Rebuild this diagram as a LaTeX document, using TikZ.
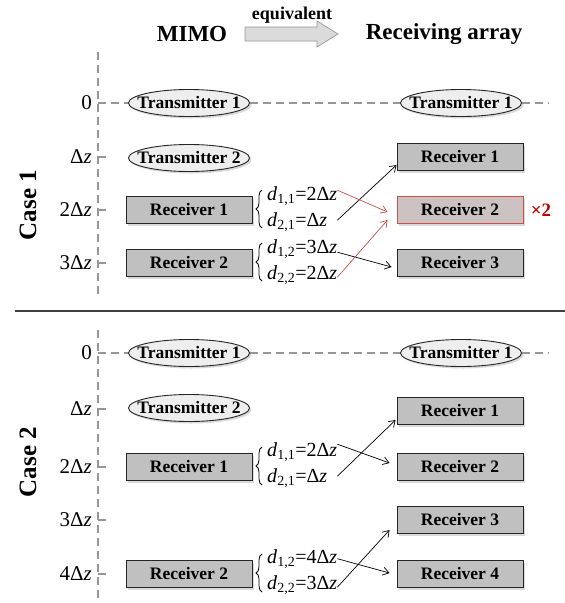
\documentclass[tikz,border=0pt]{standalone}
\usepackage{fontspec}
\setmainfont{Liberation Serif}
\usetikzlibrary{arrows.meta,shapes.geometric,shadows,decorations.pathreplacing,calc}
\definecolor{vevoszurke}{RGB}{192,192,192}
\definecolor{adoszurke}{RGB}{238,238,238}
\definecolor{tengszurke}{RGB}{150,150,150}
\definecolor{kiemel}{RGB}{200,80,77}
\definecolor{kiemelfill}{RGB}{204,194,194}
\definecolor{piros}{RGB}{192,0,0}
\tikzset{
  arny/.style={drop shadow={shadow xshift=2pt,shadow yshift=-2pt,opacity=0.3}},
  ado/.style={ellipse,draw=black!85,fill=adoszurke,line width=0.9pt,inner sep=0pt,
    minimum width=121pt,minimum height=27pt,arny,
    font=\fontsize{17.5}{20}\selectfont\bfseries},
  vevo/.style={rectangle,draw=black!85,fill=vevoszurke,line width=0.9pt,inner sep=0pt,
    minimum width=126pt,minimum height=27pt,arny,
    font=\fontsize{17.5}{20}\selectfont\bfseries},
  vevoki/.style={vevo,draw=kiemel,fill=kiemelfill},
  dlab/.style={anchor=base west,inner sep=0pt,font=\fontsize{20}{22}\selectfont},
  zlab/.style={anchor=east,inner sep=0pt,font=\fontsize{21}{23}\selectfont},
  ten/.style={draw=tengszurke,line width=1.1pt,dash pattern=on 8pt off 5pt},
  jel/.style={draw=tengszurke,line width=1.1pt},
  nyil/.style={-{Straight Barb[length=6pt,width=8pt]},line width=0.7pt},
  kapcs/.style={decorate,decoration={brace,amplitude=6pt},line width=0.8pt},
  fej/.style={font=\fontsize{23}{26}\selectfont\bfseries},
  eset/.style={rotate=90,font=\fontsize{25}{28}\selectfont\bfseries},
}
\newcommand{\dz}{Δ\textit{z}}
\newcommand{\dd}[1]{\textit{d}\textsubscript{#1}}

\begin{document}
\begin{tikzpicture}[x=1pt,y=1pt]
  \useasboundingbox (0,0) rectangle (565,-603);
  % fejlec
  \node[fej] (mimo) at (192,-34) {MIMO};
  \node[fej] (tomb) at (444,-34) {Receiving array};
  \node[font=\fontsize{18}{20}\selectfont\bfseries] (ekv) at (292,-15) {equivalent};
  \draw[draw=tengszurke,fill=gray!28,line width=0.7pt] (245,-27) -- (317,-27) -- (317,-21)
    -- (338,-34) -- (317,-47) -- (317,-41) -- (245,-41) -- cycle;

  % Case 1
  \node[eset] (case1) at (28,-205) {Case 1};
  \draw[ten] (98,-52) -- (98,-296);
  \node[zlab] (za0) at (92,-103) {0};
  \foreach \y/\t [count=\i] in {157/\dz,210/2\dz,263/3\dz} {
    \draw[jel] (98,-\y) -- (106,-\y);
    \node[zlab] (za\i) at (92,-\y) {\t};
  }
  \node[ado] (t1) at (189,-103) {\makebox[80pt]{Transmitter 1}};
  \node[ado] (t2) at (189,-158) {\makebox[80pt]{Transmitter 2}};
  \node[vevo] (r1) at (189,-210) {Receiver 1};
  \node[vevo] (r2) at (189,-263) {Receiver 2};
  \node[ado] (t1r) at (461,-103) {\makebox[80pt]{Transmitter 1}};
  \node[vevo] (q1) at (460,-157) {Receiver 1};
  \node[vevoki] (q2) at (460,-210) {Receiver 2};
  \node[vevo] (q3) at (460,-263) {Receiver 3};
  \node[font=\fontsize{19}{22}\selectfont\bfseries,text=piros] (szor) at (541,-210) {×2};
  \draw[ten] (98,-103) -- (t1.west);
  \draw[ten] (t1.east) -- (t1r.west);
  \draw[ten] (t1r.east) -- (548,-103);

  \node[dlab] (d11) at (267,-200) {\dd{1,1}=2\dz};
  \node[dlab] (d21) at (267,-226) {\dd{2,1}=\dz};
  \node[dlab] (d12) at (267,-253) {\dd{1,2}=3\dz};
  \node[dlab] (d22) at (267,-279) {\dd{2,2}=2\dz};
  \draw[kapcs] (262,-228) -- (262,-190);
  \draw[kapcs] (262,-281) -- (262,-243);

  \draw[nyil] ([yshift=1.5pt]d11.east |- d21.east) -- ([yshift=-8pt]q1.west);
  \draw[nyil,kiemel] ([yshift=5.5pt]d11.east) -- ([xshift=-9pt,yshift=-2pt]q2.west);
  \draw[nyil] ([yshift=-3.5pt]d12.east) -- ([xshift=-5pt,yshift=-4pt]q3.west);
  \draw[nyil,kiemel] ([yshift=-2.5pt]d22.east) -- ([xshift=-9pt,yshift=-10pt]q2.west);

  % elvalaszto
  \draw[line width=1.2pt,black!75] (15,-311) -- (565,-311);

  % Case 2
  \node[eset] (case2) at (28,-462) {Case 2};
  \draw[ten] (98,-330) -- (98,-603);
  \node[zlab] (zb0) at (92,-353) {0};
  \foreach \y/\t [count=\i] in {409/\dz,467/2\dz,520/3\dz,574/4\dz} {
    \draw[jel] (98,-\y) -- (106,-\y);
    \node[zlab] (zb\i) at (92,-\y) {\t};
  }
  \node[ado] (u1) at (189,-353) {\makebox[80pt]{Transmitter 1}};
  \node[ado] (u2) at (189,-408) {\makebox[80pt]{Transmitter 2}};
  \node[vevo] (s1) at (189,-467) {Receiver 1};
  \node[vevo] (s2) at (189,-574) {Receiver 2};
  \node[ado] (u1r) at (461,-353) {\makebox[80pt]{Transmitter 1}};
  \node[vevo] (p1) at (460,-411) {Receiver 1};
  \node[vevo] (p2) at (460,-467) {Receiver 2};
  \node[vevo] (p3) at (460,-520) {Receiver 3};
  \node[vevo] (p4) at (460,-574) {Receiver 4};
  \draw[ten] (98,-353) -- (u1.west);
  \draw[ten] (u1.east) -- (u1r.west);
  \draw[ten] (u1r.east) -- (548,-353);

  \node[dlab] (e11) at (267,-456) {\dd{1,1}=2\dz};
  \node[dlab] (e21) at (267,-482) {\dd{2,1}=\dz};
  \node[dlab] (e12) at (267,-563) {\dd{1,2}=4\dz};
  \node[dlab] (e22) at (267,-589) {\dd{2,2}=3\dz};
  \draw[kapcs] (262,-485) -- (262,-447);
  \draw[kapcs] (262,-592) -- (262,-554);

  \draw[nyil] ([yshift=1.5pt]e11.east |- e21.east) -- ([xshift=-1pt,yshift=-9pt]p1.west);
  \draw[nyil] ([yshift=7.5pt]e11.east) -- ([xshift=-7pt,yshift=4pt]p2.west);
  \draw[nyil] ([yshift=-2.5pt]e22.east) -- ([xshift=-7pt,yshift=-10pt]p3.west);
  \draw[nyil] (e12.east) -- ([xshift=-7pt,yshift=1pt]p4.west);
\end{tikzpicture}
\end{document}
